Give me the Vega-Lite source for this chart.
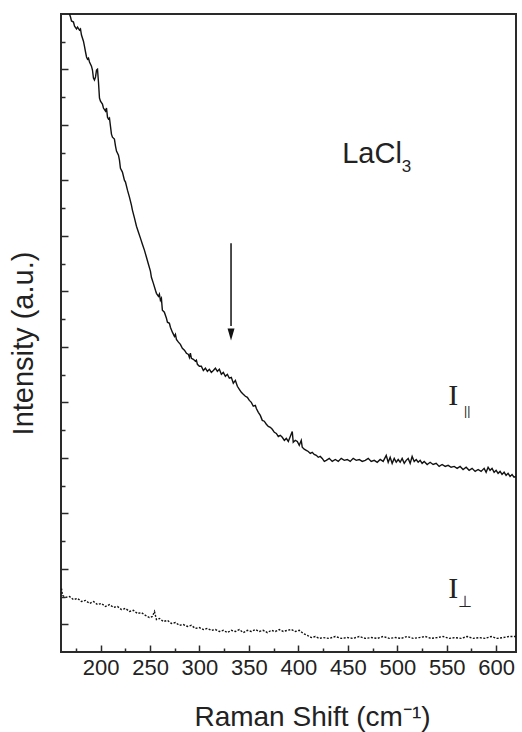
{
  "$schema": "https://vega.github.io/schema/vega-lite/v6.json",
  "width": 455,
  "height": 638,
  "autosize": {"type": "none"},
  "padding": {"left": 61, "top": 14, "right": 6, "bottom": 80},
  "background": "white",
  "config": {"view": {"stroke": "#2a2a2a", "strokeWidth": 2}, "font": "Liberation Sans"},
  "datasets": {
    "par": [
      {"shift":168.6,"intensity":23.00},{"shift":169.6,"intensity":22.89},{"shift":170.6,"intensity":22.75},{"shift":172.6,"intensity":22.71},{"shift":173.7,"intensity":22.56},{"shift":175.7,"intensity":22.46},{"shift":176.7,"intensity":22.53},{"shift":178.7,"intensity":22.42},{"shift":179.7,"intensity":22.46},{"shift":180.7,"intensity":22.24},{"shift":182.7,"intensity":22.02},{"shift":183.7,"intensity":21.84},{"shift":184.8,"intensity":21.63},{"shift":185.8,"intensity":21.45},{"shift":186.8,"intensity":21.37},{"shift":187.8,"intensity":21.41},{"shift":188.8,"intensity":21.27},{"shift":190.8,"intensity":21.12},{"shift":191.8,"intensity":20.98},{"shift":192.8,"intensity":20.69},{"shift":193.8,"intensity":20.62},{"shift":194.9,"intensity":20.73},{"shift":195.9,"intensity":20.98},{"shift":196.9,"intensity":21.01},{"shift":197.9,"intensity":20.54},{"shift":198.9,"intensity":19.97},{"shift":199.9,"intensity":19.86},{"shift":201.9,"intensity":19.75},{"shift":202.9,"intensity":19.61},{"shift":205.0,"intensity":19.50},{"shift":206.0,"intensity":19.61},{"shift":207.0,"intensity":19.28},{"shift":208.0,"intensity":19.21},{"shift":209.0,"intensity":19.25},{"shift":210.0,"intensity":18.96},{"shift":211.0,"intensity":18.67},{"shift":212.0,"intensity":18.56},{"shift":214.0,"intensity":18.49},{"shift":215.1,"intensity":18.24},{"shift":216.1,"intensity":18.06},{"shift":218.1,"intensity":17.91},{"shift":219.1,"intensity":17.73},{"shift":220.1,"intensity":17.44},{"shift":222.1,"intensity":17.30},{"shift":224.1,"intensity":17.01},{"shift":225.2,"intensity":16.94},{"shift":227.2,"intensity":16.65},{"shift":229.2,"intensity":16.40},{"shift":231.2,"intensity":16.11},{"shift":232.2,"intensity":15.93},{"shift":234.3,"intensity":15.64},{"shift":236.3,"intensity":15.35},{"shift":238.3,"intensity":15.13},{"shift":240.3,"intensity":14.92},{"shift":242.3,"intensity":14.70},{"shift":244.4,"intensity":14.48},{"shift":246.4,"intensity":14.23},{"shift":248.4,"intensity":13.98},{"shift":250.4,"intensity":13.73},{"shift":251.4,"intensity":13.51},{"shift":253.4,"intensity":13.29},{"shift":255.5,"intensity":13.04},{"shift":256.5,"intensity":12.93},{"shift":258.5,"intensity":12.82},{"shift":259.5,"intensity":12.90},{"shift":260.5,"intensity":12.68},{"shift":261.5,"intensity":12.75},{"shift":262.5,"intensity":12.32},{"shift":264.5,"intensity":12.25},{"shift":266.6,"intensity":12.03},{"shift":267.6,"intensity":11.89},{"shift":269.6,"intensity":11.85},{"shift":270.6,"intensity":11.71},{"shift":272.6,"intensity":11.53},{"shift":274.7,"intensity":11.38},{"shift":275.7,"intensity":11.45},{"shift":276.7,"intensity":11.27},{"shift":278.7,"intensity":11.17},{"shift":280.7,"intensity":11.09},{"shift":282.7,"intensity":10.95},{"shift":284.8,"intensity":10.88},{"shift":286.8,"intensity":10.77},{"shift":288.8,"intensity":10.73},{"shift":289.8,"intensity":10.62},{"shift":290.8,"intensity":10.77},{"shift":291.8,"intensity":10.59},{"shift":293.8,"intensity":10.55},{"shift":295.9,"intensity":10.48},{"shift":296.9,"intensity":10.52},{"shift":297.9,"intensity":10.37},{"shift":299.9,"intensity":10.30},{"shift":301.9,"intensity":10.30},{"shift":303.9,"intensity":10.15},{"shift":306.0,"intensity":10.23},{"shift":308.0,"intensity":10.12},{"shift":310.0,"intensity":10.19},{"shift":312.0,"intensity":10.08},{"shift":314.0,"intensity":10.15},{"shift":316.1,"intensity":10.23},{"shift":318.1,"intensity":10.12},{"shift":320.1,"intensity":10.19},{"shift":322.1,"intensity":10.01},{"shift":324.1,"intensity":10.08},{"shift":326.2,"intensity":9.94},{"shift":328.2,"intensity":10.01},{"shift":330.2,"intensity":9.87},{"shift":332.2,"intensity":9.90},{"shift":334.2,"intensity":9.69},{"shift":336.3,"intensity":9.79},{"shift":338.3,"intensity":9.58},{"shift":340.3,"intensity":9.47},{"shift":342.3,"intensity":9.36},{"shift":344.3,"intensity":9.29},{"shift":346.4,"intensity":9.22},{"shift":348.4,"intensity":9.18},{"shift":350.4,"intensity":9.07},{"shift":352.4,"intensity":9.00},{"shift":354.4,"intensity":8.86},{"shift":356.5,"intensity":8.89},{"shift":357.5,"intensity":8.78},{"shift":359.5,"intensity":8.64},{"shift":361.5,"intensity":8.53},{"shift":363.5,"intensity":8.35},{"shift":365.5,"intensity":8.32},{"shift":367.6,"intensity":8.21},{"shift":369.6,"intensity":8.13},{"shift":371.6,"intensity":8.10},{"shift":373.6,"intensity":8.03},{"shift":375.7,"intensity":7.92},{"shift":377.7,"intensity":7.88},{"shift":379.7,"intensity":7.77},{"shift":381.7,"intensity":7.81},{"shift":383.7,"intensity":7.74},{"shift":385.8,"intensity":7.63},{"shift":387.8,"intensity":7.70},{"shift":389.8,"intensity":7.59},{"shift":391.8,"intensity":7.77},{"shift":393.8,"intensity":7.95},{"shift":394.8,"intensity":7.56},{"shift":396.9,"intensity":7.63},{"shift":398.9,"intensity":7.59},{"shift":400.9,"intensity":7.45},{"shift":402.9,"intensity":7.63},{"shift":403.9,"intensity":7.38},{"shift":405.9,"intensity":7.31},{"shift":408.0,"intensity":7.27},{"shift":410.0,"intensity":7.23},{"shift":412.0,"intensity":7.16},{"shift":414.0,"intensity":7.20},{"shift":416.0,"intensity":7.12},{"shift":418.1,"intensity":7.09},{"shift":420.1,"intensity":7.02},{"shift":422.1,"intensity":7.05},{"shift":424.1,"intensity":6.98},{"shift":426.2,"intensity":6.87},{"shift":428.2,"intensity":6.91},{"shift":431.2,"intensity":6.98},{"shift":434.2,"intensity":6.87},{"shift":437.3,"intensity":6.94},{"shift":440.3,"intensity":6.87},{"shift":443.3,"intensity":6.98},{"shift":446.4,"intensity":6.91},{"shift":449.4,"intensity":6.94},{"shift":452.4,"intensity":6.87},{"shift":455.4,"intensity":6.98},{"shift":458.5,"intensity":6.91},{"shift":461.5,"intensity":6.94},{"shift":464.5,"intensity":6.87},{"shift":467.6,"intensity":6.91},{"shift":470.6,"intensity":6.98},{"shift":473.6,"intensity":6.87},{"shift":476.7,"intensity":6.91},{"shift":479.7,"intensity":6.84},{"shift":482.7,"intensity":6.94},{"shift":485.7,"intensity":6.87},{"shift":488.8,"intensity":7.09},{"shift":490.8,"intensity":6.84},{"shift":492.8,"intensity":7.02},{"shift":494.8,"intensity":6.80},{"shift":496.9,"intensity":6.98},{"shift":498.9,"intensity":6.84},{"shift":500.9,"intensity":6.94},{"shift":502.9,"intensity":6.84},{"shift":504.9,"intensity":6.98},{"shift":507.0,"intensity":6.80},{"shift":509.0,"intensity":6.91},{"shift":511.0,"intensity":6.98},{"shift":513.0,"intensity":6.80},{"shift":515.0,"intensity":7.05},{"shift":517.1,"intensity":6.87},{"shift":519.1,"intensity":6.94},{"shift":521.1,"intensity":6.84},{"shift":523.1,"intensity":6.91},{"shift":525.1,"intensity":6.80},{"shift":527.2,"intensity":6.87},{"shift":530.2,"intensity":6.76},{"shift":533.2,"intensity":6.84},{"shift":536.2,"intensity":6.76},{"shift":539.3,"intensity":6.80},{"shift":542.3,"intensity":6.69},{"shift":545.3,"intensity":6.76},{"shift":548.4,"intensity":6.69},{"shift":551.4,"intensity":6.73},{"shift":554.4,"intensity":6.66},{"shift":557.5,"intensity":6.69},{"shift":560.5,"intensity":6.62},{"shift":563.5,"intensity":6.69},{"shift":566.5,"intensity":6.58},{"shift":569.6,"intensity":6.66},{"shift":572.6,"intensity":6.55},{"shift":575.6,"intensity":6.62},{"shift":578.7,"intensity":6.51},{"shift":581.7,"intensity":6.58},{"shift":584.7,"intensity":6.51},{"shift":587.8,"intensity":6.62},{"shift":589.8,"intensity":6.48},{"shift":591.8,"intensity":6.66},{"shift":593.8,"intensity":6.55},{"shift":595.8,"intensity":6.62},{"shift":597.9,"intensity":6.48},{"shift":599.9,"intensity":6.55},{"shift":601.9,"intensity":6.44},{"shift":603.9,"intensity":6.51},{"shift":605.9,"intensity":6.40},{"shift":608.0,"intensity":6.48},{"shift":610.0,"intensity":6.37},{"shift":612.0,"intensity":6.44},{"shift":614.0,"intensity":6.33},{"shift":616.0,"intensity":6.40},{"shift":618.0,"intensity":6.30},{"shift":620.0,"intensity":6.33}
    ],
    "perp": [
      {"shift":160.5,"intensity":2.29},{"shift":161.5,"intensity":2.04},{"shift":164.6,"intensity":1.97},{"shift":168.6,"intensity":2.00},{"shift":172.6,"intensity":1.89},{"shift":176.7,"intensity":1.93},{"shift":180.7,"intensity":1.82},{"shift":184.8,"intensity":1.86},{"shift":188.8,"intensity":1.75},{"shift":192.8,"intensity":1.82},{"shift":196.9,"intensity":1.71},{"shift":200.9,"intensity":1.75},{"shift":205.0,"intensity":1.64},{"shift":209.0,"intensity":1.71},{"shift":213.0,"intensity":1.61},{"shift":217.1,"intensity":1.64},{"shift":221.1,"intensity":1.53},{"shift":225.2,"intensity":1.57},{"shift":229.2,"intensity":1.46},{"shift":233.2,"intensity":1.50},{"shift":237.3,"intensity":1.39},{"shift":241.3,"intensity":1.42},{"shift":245.4,"intensity":1.32},{"shift":249.4,"intensity":1.24},{"shift":252.4,"intensity":1.28},{"shift":254.5,"intensity":1.46},{"shift":256.5,"intensity":1.17},{"shift":259.5,"intensity":1.21},{"shift":263.5,"intensity":1.10},{"shift":267.6,"intensity":1.14},{"shift":271.6,"intensity":1.03},{"shift":275.7,"intensity":1.06},{"shift":279.7,"intensity":0.96},{"shift":283.7,"intensity":0.99},{"shift":287.8,"intensity":0.92},{"shift":291.8,"intensity":0.96},{"shift":295.9,"intensity":0.85},{"shift":299.9,"intensity":0.88},{"shift":303.9,"intensity":0.81},{"shift":308.0,"intensity":0.85},{"shift":312.0,"intensity":0.78},{"shift":316.1,"intensity":0.81},{"shift":320.1,"intensity":0.74},{"shift":324.1,"intensity":0.78},{"shift":328.2,"intensity":0.70},{"shift":332.2,"intensity":0.78},{"shift":336.3,"intensity":0.74},{"shift":340.3,"intensity":0.81},{"shift":344.3,"intensity":0.70},{"shift":348.4,"intensity":0.78},{"shift":352.4,"intensity":0.74},{"shift":356.5,"intensity":0.81},{"shift":360.5,"intensity":0.74},{"shift":364.5,"intensity":0.78},{"shift":368.6,"intensity":0.70},{"shift":372.6,"intensity":0.78},{"shift":376.7,"intensity":0.74},{"shift":380.7,"intensity":0.81},{"shift":384.7,"intensity":0.74},{"shift":388.8,"intensity":0.78},{"shift":392.8,"intensity":0.81},{"shift":396.9,"intensity":0.74},{"shift":400.9,"intensity":0.78},{"shift":404.9,"intensity":0.67},{"shift":409.0,"intensity":0.60},{"shift":413.0,"intensity":0.52},{"shift":417.1,"intensity":0.56},{"shift":421.1,"intensity":0.49},{"shift":425.1,"intensity":0.52},{"shift":431.2,"intensity":0.49},{"shift":437.3,"intensity":0.56},{"shift":443.3,"intensity":0.49},{"shift":449.4,"intensity":0.52},{"shift":455.4,"intensity":0.49},{"shift":461.5,"intensity":0.56},{"shift":467.6,"intensity":0.49},{"shift":473.6,"intensity":0.52},{"shift":479.7,"intensity":0.49},{"shift":485.7,"intensity":0.56},{"shift":491.8,"intensity":0.49},{"shift":497.9,"intensity":0.52},{"shift":503.9,"intensity":0.49},{"shift":510.0,"intensity":0.56},{"shift":516.0,"intensity":0.49},{"shift":522.1,"intensity":0.52},{"shift":528.2,"intensity":0.56},{"shift":534.2,"intensity":0.49},{"shift":540.3,"intensity":0.52},{"shift":546.3,"intensity":0.56},{"shift":552.4,"intensity":0.49},{"shift":558.5,"intensity":0.52},{"shift":564.5,"intensity":0.49},{"shift":570.6,"intensity":0.56},{"shift":576.6,"intensity":0.49},{"shift":582.7,"intensity":0.52},{"shift":588.8,"intensity":0.49},{"shift":594.8,"intensity":0.56},{"shift":600.9,"intensity":0.49},{"shift":606.9,"intensity":0.52},{"shift":613.0,"intensity":0.56},{"shift":620.0,"intensity":0.56}
    ]
  },
  "layer": [
    {
      "data": {"name": "par"},
      "mark": {"type": "line", "color": "#111", "strokeWidth": 1.4, "clip": true},
      "encoding": {
        "x": {
          "field": "shift", "type": "quantitative",
          "scale": {"domain": [160, 620], "nice": false, "zero": false},
          "axis": {
            "title": "Raman Shift (cm⁻¹)",
            "titleFont": "Liberation Sans", "titleFontSize": 28, "titleFontWeight": "normal", "titleColor": "#222",
            "titleX": 251, "titleY": 73.5, "titleAlign": "center", "titleBaseline": "alphabetic", "titleAnchor": null,
            "values": [175,200,225,250,275,300,325,350,375,400,425,450,475,500,525,550,575,600],
            "tickCount": 100,
            "labelExpr": "datum.value % 50 === 0 ? datum.label : ''",
            "labelFont": "Liberation Sans", "labelFontSize": 22, "labelColor": "#222",
            "labelPadding": 12, "labelOverlap": false, "labelFlush": false,
            "domain": false, "grid": false,
            "tickColor": "#2a2a2a", "tickWidth": 1.5, "tickSize": -7,
            "tickDash": {"condition": {"test": "datum.value % 50 !== 0", "value": [4, 20]}, "value": [10, 0]}
          }
        },
        "y": {
          "field": "intensity", "type": "quantitative",
          "scale": {"domain": [0, 23], "nice": false, "zero": false},
          "axis": {
            "title": "Intensity (a.u.)",
            "titleFont": "Liberation Sans", "titleFontSize": 29, "titleFontWeight": "normal", "titleColor": "#222",
            "titleAngle": -90, "titleX": -29, "titleY": 329, "titleAlign": "center", "titleBaseline": "alphabetic", "titleAnchor": null,
            "values": [1,2,3,4,5,6,7,8,9,10,11,12,13,14,15,16,17,18,19,20,21,22],
            "tickCount": 100,
            "labels": false, "domain": false, "grid": false,
            "tickColor": "#2a2a2a", "tickWidth": 1.5, "tickSize": -7,
            "tickDash": {"condition": {"test": "datum.value % 2 === 0", "value": [4, 20]}, "value": [10, 0]}
          }
        }
      }
    },
    {
      "data": {"name": "perp"},
      "mark": {"type": "line", "color": "#111", "strokeWidth": 1.4, "strokeDash": [2, 1.5], "clip": true},
      "encoding": {
        "x": {"field": "shift", "type": "quantitative"},
        "y": {"field": "intensity", "type": "quantitative"}
      }
    },
    {
      "data": {"values": [{"shift": 331.9, "intensity": 14.74, "intensity2": 11.75}]},
      "mark": {"type": "rule", "color": "#111", "strokeWidth": 1.5},
      "encoding": {
        "x": {"field": "shift", "type": "quantitative"},
        "y": {"field": "intensity", "type": "quantitative"},
        "y2": {"field": "intensity2"}
      }
    },
    {
      "data": {"values": [{"shift": 331.9, "intensity": 11.45}]},
      "mark": {"type": "point", "shape": "M -0.58 -1 L 0.58 -1 L 0 1 Z", "size": 144, "filled": true, "color": "#111", "opacity": 1, "strokeWidth": 0},
      "encoding": {
        "x": {"field": "shift", "type": "quantitative"},
        "y": {"field": "intensity", "type": "quantitative"}
      }
    },
    {
      "data": {"values": [{"shift": 444.3, "intensity": 17.62, "label": "LaCl"}]},
      "mark": {"type": "text", "align": "left", "baseline": "alphabetic", "font": "Liberation Sans", "fontSize": 29, "color": "#222"},
      "encoding": {
        "x": {"field": "shift", "type": "quantitative"},
        "y": {"field": "intensity", "type": "quantitative"},
        "text": {"field": "label"}
      }
    },
    {
      "data": {"values": [{"shift": 504.5, "intensity": 17.30, "label": "3"}]},
      "mark": {"type": "text", "align": "left", "baseline": "alphabetic", "font": "Liberation Sans", "fontSize": 17, "color": "#222"},
      "encoding": {
        "x": {"field": "shift", "type": "quantitative"},
        "y": {"field": "intensity", "type": "quantitative"},
        "text": {"field": "label"}
      }
    },
    {
      "data": {"values": [{"shift": 551.5, "intensity": 8.89, "label": "I"}, {"shift": 551.5, "intensity": 1.93, "label": "I"}]},
      "mark": {"type": "text", "align": "left", "baseline": "alphabetic", "font": "Liberation Serif", "fontSize": 30, "color": "#222"},
      "encoding": {
        "x": {"field": "shift", "type": "quantitative"},
        "y": {"field": "intensity", "type": "quantitative"},
        "text": {"field": "label"}
      }
    },
    {
      "data": {"values": [{"shift": 567.5, "intensity": 8.55, "label": "||"}]},
      "mark": {"type": "text", "align": "left", "baseline": "alphabetic", "font": "Liberation Sans", "fontSize": 12, "color": "#222"},
      "encoding": {
        "x": {"field": "shift", "type": "quantitative"},
        "y": {"field": "intensity", "type": "quantitative"},
        "text": {"field": "label"}
      }
    },
    {
      "data": {"values": [{"shift": 561.5, "intensity": 1.61, "label": "⊥"}]},
      "mark": {"type": "text", "align": "left", "baseline": "alphabetic", "font": "DejaVu Sans", "fontSize": 16, "color": "#222"},
      "encoding": {
        "x": {"field": "shift", "type": "quantitative"},
        "y": {"field": "intensity", "type": "quantitative"},
        "text": {"field": "label"}
      }
    }
  ]
}
